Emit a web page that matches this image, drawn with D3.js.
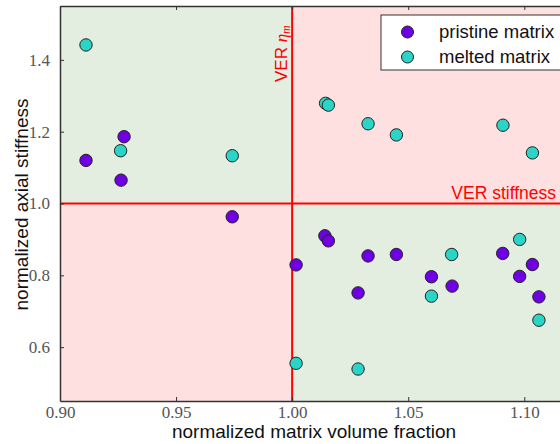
<!DOCTYPE html>
<html><head><meta charset="utf-8">
<script src="https://cdn.jsdelivr.net/npm/d3@7"></script>
<style>body{margin:0;background:#fff;}svg{display:block;}</style>
</head><body>
<svg id="c" width="560" height="444"></svg>
<script>
const pristineX = [0.9112,0.9276,0.9263,0.9742,1.0017,1.0141,1.0156,1.0327,1.0284,1.0449,1.0600,1.0689,1.0907,1.0980,1.1035,1.1063];
const pristineY = [1.120,1.186,1.065,0.963,0.829,0.910,0.896,0.854,0.751,0.858,0.796,0.770,0.861,0.797,0.830,0.740];
const meltedX = [0.9112,0.9261,0.9742,1.0144,1.0156,1.0327,1.0449,1.0908,1.1035,1.0687,1.0980,1.0600,1.1063,1.0017,1.0284];
const meltedY = [1.4415,1.147,1.133,1.279,1.274,1.222,1.191,1.218,1.141,0.858,0.900,0.742,0.675,0.555,0.539];
const xTicks = [0.90,0.95,1.00,1.05,1.10];
const yTicks = [0.6,0.8,1.0,1.2,1.4];
const seriesNames = ["pristine matrix","melted matrix"];
const xDomain = [0.90,1.13];
const yDomain = [0.45,1.55];
const refX = 1.0, refY = 1.0;

const svg = d3.select("#c");
const L=60, T=6, B=401;
const pxPerUnit = 2321.5;
const R = L + (xDomain[1]-xDomain[0])*pxPerUnit;
const x = d3.scaleLinear().domain(xDomain).range([L,R]);
const y = d3.scaleLinear().domain(yDomain).range([B,T]);
const green="#e4eee0", pink="#ffe0e0", red="#ff0000";
const purple="#7000e4", cyan="#2ad4c6";
const sans="Liberation Sans, Arial, sans-serif";

const g = svg.append("g");
// quadrants
g.append("rect").attr("x",x(xDomain[0])).attr("y",y(yDomain[1])).attr("width",x(refX)-x(xDomain[0])).attr("height",y(refY)-y(yDomain[1])).attr("fill",green);
g.append("rect").attr("x",x(refX)).attr("y",y(yDomain[1])).attr("width",x(xDomain[1])-x(refX)).attr("height",y(refY)-y(yDomain[1])).attr("fill",pink);
g.append("rect").attr("x",x(xDomain[0])).attr("y",y(refY)).attr("width",x(refX)-x(xDomain[0])).attr("height",y(yDomain[0])-y(refY)).attr("fill",pink);
g.append("rect").attr("x",x(refX)).attr("y",y(refY)).attr("width",x(xDomain[1])-x(refX)).attr("height",y(yDomain[0])-y(refY)).attr("fill",green);

// ref lines
g.append("line").attr("x1",x(refX)).attr("x2",x(refX)).attr("y1",y(yDomain[0])).attr("y2",y(yDomain[1])).attr("stroke",red).attr("stroke-width",2);
g.append("line").attr("x1",x(xDomain[0])).attr("x2",x(xDomain[1])).attr("y1",y(refY)).attr("y2",y(refY)).attr("stroke",red).attr("stroke-width",2);

// ref labels
const vt = g.append("text").attr("transform",`translate(${x(refX)-5},82) rotate(-90)`)
  .attr("text-anchor","start").attr("fill",red).style("font-family",sans).style("font-size","17px");
vt.append("tspan").text("VER ");
vt.append("tspan").text("η").style("font-family","Liberation Serif, serif").style("font-style","italic").style("font-size","17px");
vt.append("tspan").text("m").attr("dy",3).style("font-family","Liberation Serif, serif").style("font-style","italic").style("font-size","12px");
g.append("text").attr("x",556).attr("y",y(refY)-4.5).attr("text-anchor","end").attr("fill",red)
  .style("font-family",sans).style("font-size","17.5px").text("VER stiffness");

// points
function pts(xs,ys,col){
  g.selectAll(null).data(xs.map((v,i)=>[v,ys[i]])).enter().append("circle")
   .attr("cx",d=>x(d[0])).attr("cy",d=>y(d[1])).attr("r",6.2)
   .attr("fill",col).attr("stroke","#222").attr("stroke-width",1);
}
pts(pristineX,pristineY,purple);
pts(meltedX,meltedY,cyan);

// axes
const tickFmt = d3.format(".2f");
const xb = d3.axisBottom(x).tickValues(xTicks).tickFormat(tickFmt).tickSizeInner(-4).tickSizeOuter(0).tickPadding(5);
const xt = d3.axisTop(x).tickValues(xTicks).tickFormat("").tickSizeInner(-4).tickSizeOuter(0);
const yl = d3.axisLeft(y).tickValues(yTicks).tickFormat(d3.format(".1f")).tickSizeInner(-4).tickSizeOuter(0).tickPadding(10);
function style(sel){
  sel.selectAll("path").attr("stroke","#333").attr("stroke-width",1.5);
  sel.selectAll("line").attr("stroke","#333");
  sel.selectAll("text").attr("fill","#555").style("font-family","Liberation Serif, serif").style("font-size","17px");
}
style(svg.append("g").attr("transform",`translate(0,${B})`).call(xb));
style(svg.append("g").attr("transform",`translate(0,${T})`).call(xt));
style(svg.append("g").attr("transform",`translate(${L},0)`).call(yl));

// legend
const lg = svg.append("g");
lg.append("rect").attr("x",381).attr("y",15).attr("width",190).attr("height",55).attr("fill","#fff").attr("stroke","#333").attr("stroke-width",1);
[[purple,31],[cyan,56]].forEach((c,i)=>{
  lg.append("circle").attr("cx",407.5).attr("cy",c[1]+1).attr("r",6).attr("fill",c[0]).attr("stroke","#222");
  lg.append("text").attr("x",439).attr("y",c[1]+6.5).text(seriesNames[i]).attr("fill","#111")
    .style("font-family",sans).style("font-size","18.5px");
});

// axis labels
svg.append("text").attr("x",314).attr("y",438).attr("text-anchor","middle").attr("fill","#111")
  .style("font-family",sans).style("font-size","19px").text("normalized matrix volume fraction");
svg.append("text").attr("transform",`translate(28,${(T+B)/2+1}) rotate(-90)`).attr("text-anchor","middle").attr("fill","#111")
  .style("font-family",sans).style("font-size","19px").text("normalized axial stiffness");
</script>
</body></html>
